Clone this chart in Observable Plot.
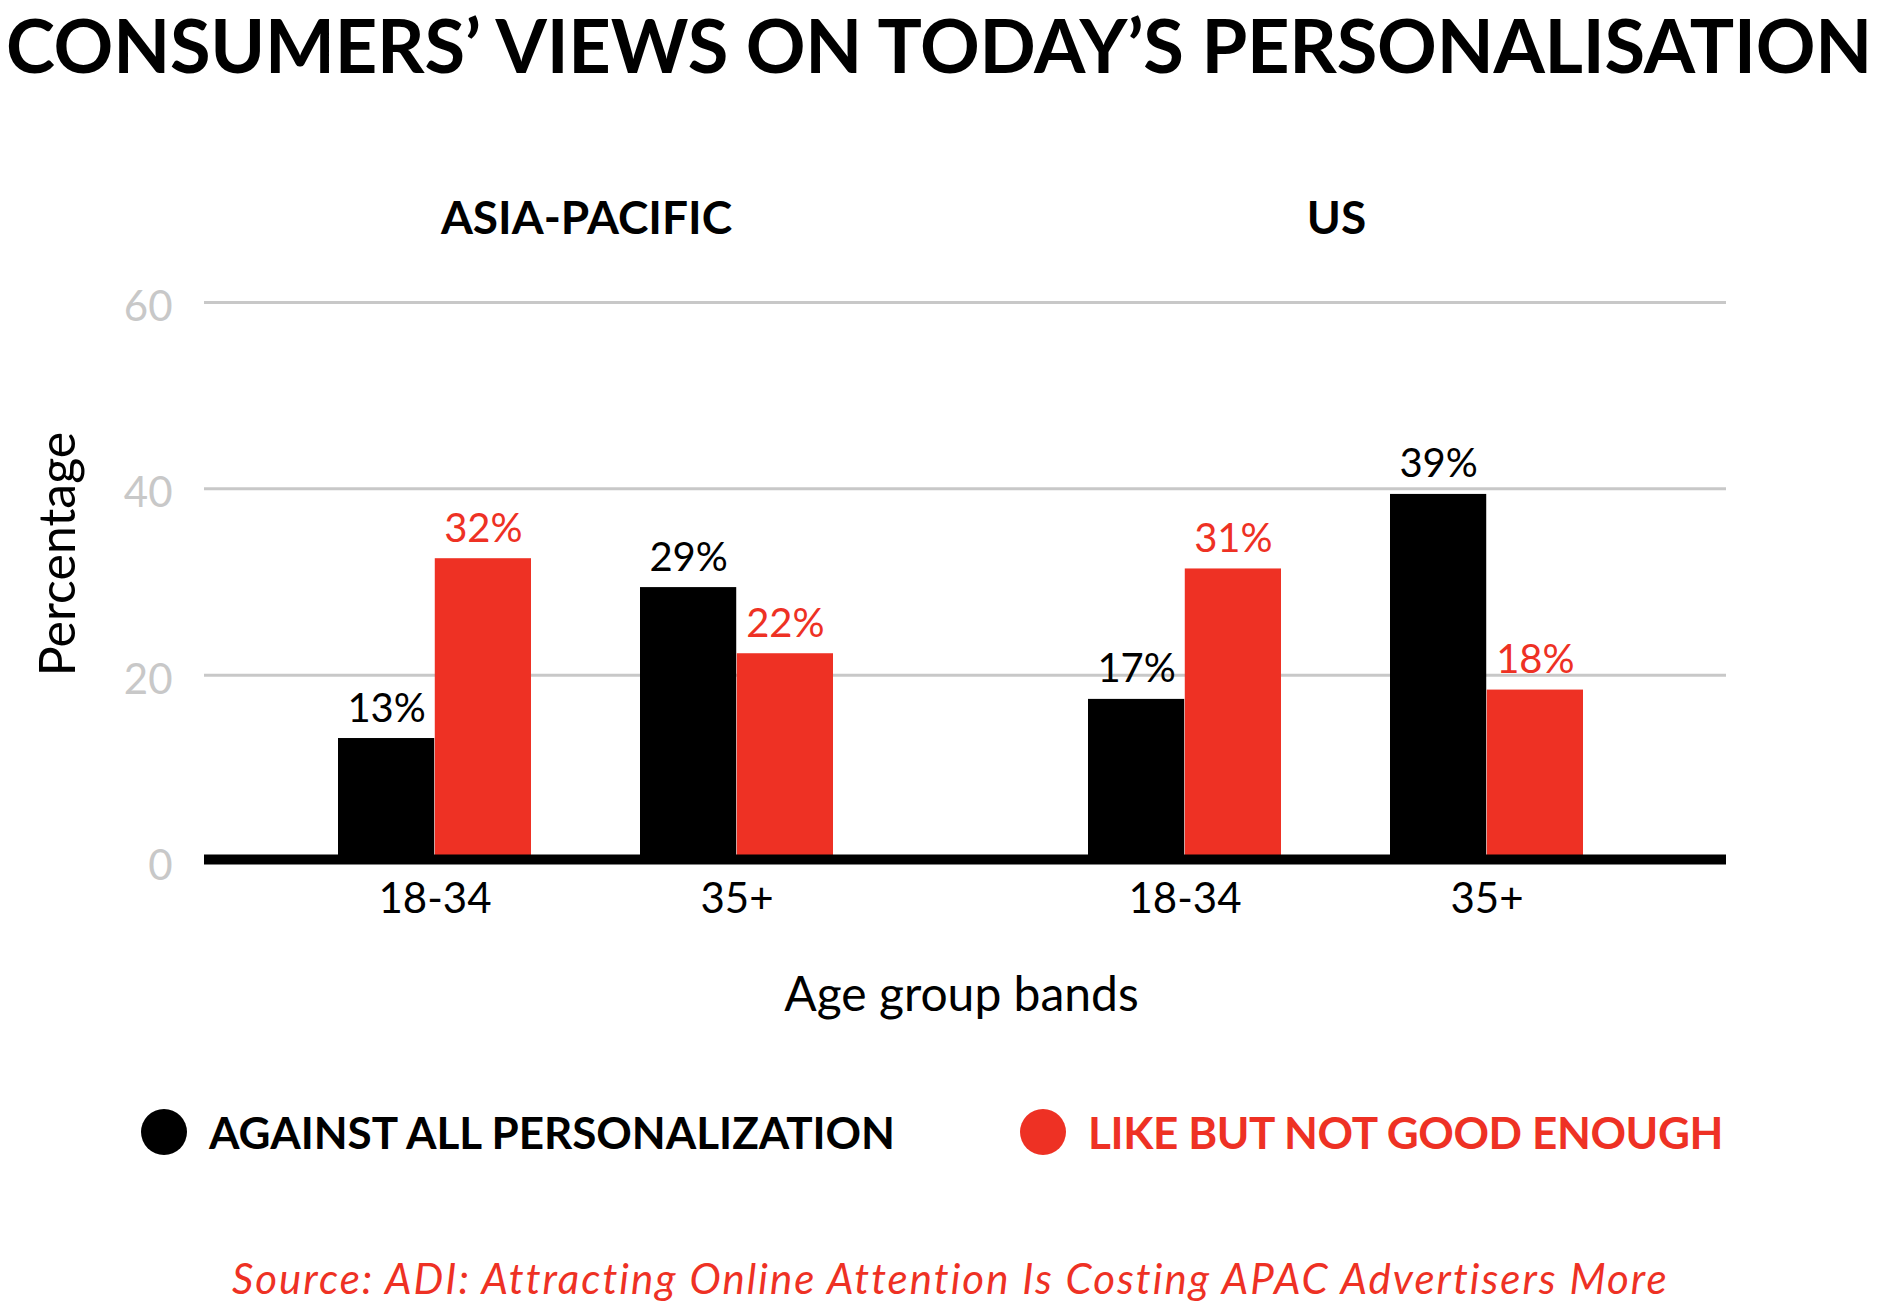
<!DOCTYPE html>
<html>
<head>
<meta charset="utf-8">
<script src="https://cdn.jsdelivr.net/npm/d3@7"></script>
<script src="https://cdn.jsdelivr.net/npm/@observablehq/plot@0.6"></script>
<style>
  html, body { margin: 0; padding: 0; background: #fff; }
  body { width: 1888px; height: 1303px; overflow: hidden; position: relative; font-family: Lato, "Open Sans", sans-serif; }
  #title { position: absolute; left: 6px; top: 0px; font-weight: 700; font-size: 74px; line-height: normal; white-space: nowrap; color: #000; }
  #chart { position: absolute; left: 0; top: 80px; }
  .legend-item { position: absolute; top: 1109px; height: 46px; display: flex; align-items: center; font-weight: 700; font-size: 44px; line-height: 46px; white-space: nowrap; }
  .dot { width: 46px; height: 46px; border-radius: 50%; flex: none; }
  .legend-item span.lbl { margin-left: 22px; }
  #source { position: absolute; top: 1257px; left: 232px; font-style: italic; font-size: 42px; line-height: 42px; white-space: nowrap; }
  #chart [aria-label="x-axis label"], #chart [aria-label="x-axis label"] text { font-size: 48px; }
</style>
</head>
<body>
<div id="title"></div>
<div id="chart"></div>
<div id="legend"></div>
<div id="source"></div>
<script>
// ---- Data ----
const titleText = "CONSUMERS’ VIEWS ON TODAY’S PERSONALISATION";
const sourceText = "Source: ADI: Attracting Online Attention Is Costing APAC Advertisers More";
const regions = ["ASIA-PACIFIC", "US"];
const ageGroups = ["18-34", "35+"];
const seriesNames = ["AGAINST ALL PERSONALIZATION", "LIKE BUT NOT GOOD ENOUGH"];
const seriesColors = ["#000000", "#ee3124"];
const cellRegion = ["ASIA-PACIFIC", "ASIA-PACIFIC", "US", "US"];
const cellAge = ["18-34", "35+", "18-34", "35+"];
const againstValues = [13.2, 29.4, 17.4, 39.4];
const againstLabels = ["13%", "29%", "17%", "39%"];
const likeValues = [32.5, 22.3, 31.4, 18.4];
const likeLabels = ["32%", "22%", "31%", "18%"];
const yTicks = [0, 20, 40, 60];
const gridTicks = [20, 40, 60];
const yLabel = "Percentage";
const xLabel = "Age group bands";

const rows = cellRegion.flatMap((r, i) => [
  {region: r, age: cellAge[i], series: seriesNames[0], value: againstValues[i], label: againstLabels[i]},
  {region: r, age: cellAge[i], series: seriesNames[1], value: likeValues[i], label: likeLabels[i]}
]);
const first = rows.filter(d => d.series === seriesNames[0]);
const second = rows.filter(d => d.series === seriesNames[1]);
const gridRows = regions.flatMap(r => gridTicks.map(v => ({region: r, v})));
const baseRows = regions.map(r => ({region: r, v: 0}));
const yLabelRows = [{region: regions[0], text: yLabel}];

// ---- Layout ----
const W = 1888, H = 980, mL = 211, mR = 177, mT = 222, mB = 199;
const pI = 0.36, pO = 0.42;
const facetW = (W - mL - mR) / regions.length;
const step = facetW / (ageGroups.length - pI + 2 * pO);
const bw = step * (1 - pI);
const half = bw / 2;
const isFirst = d => d.region === regions[0];
const isLast = d => d.region === regions[regions.length - 1];

const plot = Plot.plot({
  width: W, height: H,
  marginLeft: mL, marginRight: mR, marginTop: mT, marginBottom: mB,
  style: {fontFamily: "Lato, 'Open Sans', sans-serif", background: "#fff", overflow: "visible"},
  fx: {domain: regions, padding: 0},
  x: {domain: ageGroups, paddingInner: pI, paddingOuter: pO},
  y: {domain: [0, 60]},
  color: {domain: seriesNames, range: seriesColors},
  marks: [
    Plot.ruleY(gridRows.filter(isFirst), {fx: "region", y: "v", stroke: "#c8c8c8", strokeWidth: 3, insetLeft: -7}),
    Plot.ruleY(gridRows.filter(isLast), {fx: "region", y: "v", stroke: "#c8c8c8", strokeWidth: 3, insetRight: -15}),
    Plot.barY(first, {fx: "region", x: "age", y: "value", fill: "series", insetRight: half}),
    Plot.barY(second, {fx: "region", x: "age", y: "value", fill: "series", insetLeft: half}),
    Plot.text(first, {fx: "region", x: "age", y: "value", text: "label", fill: "series", dx: -half / 2, dy: -17, lineAnchor: "bottom", fontSize: 40}),
    Plot.text(second, {fx: "region", x: "age", y: "value", text: "label", fill: "series", dx: half / 2, dy: -17, lineAnchor: "bottom", fontSize: 40}),
    Plot.ruleY(baseRows.filter(isFirst), {fx: "region", y: "v", stroke: "#000", strokeWidth: 10, insetLeft: -7, dy: -2}),
    Plot.ruleY(baseRows.filter(isLast), {fx: "region", y: "v", stroke: "#000", strokeWidth: 10, insetRight: -15, dy: -2}),
    Plot.axisY({ticks: yTicks, tickSize: 0, tickPadding: 39, fontSize: 42, color: "#c8c8c8", dy: 5, label: null}),
    Plot.text(yLabelRows, {fx: "region", text: "text", frameAnchor: "left", rotate: -90, lineAnchor: "top", textAnchor: "middle",
      dx: -172, dy: -28, fontSize: 50, fill: "#000"}),
    Plot.axisX({tickSize: 0, tickPadding: 22, fontSize: 42, color: "#000",
      label: xLabel, labelAnchor: "center", labelArrow: "none", labelOffset: 149}),
    Plot.axisFx({anchor: "top", tickSize: 0, tickPadding: 69, fontSize: 46, fontWeight: 700, label: null})
  ]
});
document.getElementById("chart").appendChild(plot);

// ---- Title, legend, source ----
function fitWidth(el, target) {
  el.style.letterSpacing = "0px";
  const w = el.getBoundingClientRect().width;
  const n = el.textContent.length;
  el.style.letterSpacing = ((target - w) / n) + "px";
}
const title = document.getElementById("title");
title.textContent = titleText;
fitWidth(title, 1866);

const legend = document.getElementById("legend");
const legendLeft = [141, 1020];
const legendWidths = [686, 635];
seriesNames.forEach((name, i) => {
  const item = document.createElement("div");
  item.className = "legend-item";
  item.style.left = legendLeft[i] + "px";
  item.style.color = seriesColors[i];
  const dot = document.createElement("div");
  dot.className = "dot";
  dot.style.background = seriesColors[i];
  const lbl = document.createElement("span");
  lbl.className = "lbl";
  lbl.textContent = name;
  item.appendChild(dot);
  item.appendChild(lbl);
  legend.appendChild(item);
  fitWidth(lbl, legendWidths[i]);
});

const source = document.getElementById("source");
source.textContent = sourceText;
source.style.color = seriesColors[1];
fitWidth(source, 1430);
</script>
</body>
</html>
